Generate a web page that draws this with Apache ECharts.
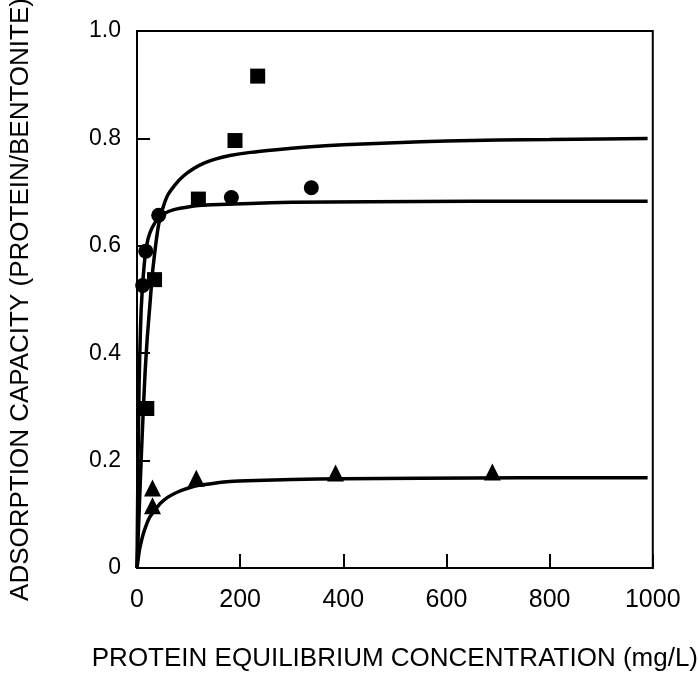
<!DOCTYPE html>
<html>
<head>
<meta charset="utf-8">
<script src="https://cdn.jsdelivr.net/npm/echarts@6/dist/echarts.min.js"></script>
<style>
  html, body { margin: 0; padding: 0; background: #fff; }
  #my-charts { width: 698px; height: 677px; }
</style>
</head>
<body>
<div id="my-charts"></div>
<script>
var squareX = [19, 34, 119, 190, 234]
var squareY = [0.297, 0.537, 0.687, 0.796, 0.916]
var circleX = [11, 17, 42, 183, 338]
var circleY = [0.526, 0.59, 0.657, 0.69, 0.708]
var triX = [30, 30, 115, 385, 689]
var triY = [0.116, 0.149, 0.167, 0.177, 0.179]

// fitted curves, points
var curveAX = [0, 4, 8, 12, 16, 20, 25, 30, 36, 42, 50, 60, 75, 90, 110, 130, 150, 180, 220, 270, 330, 400, 500, 600, 700, 800, 900, 990]
var curveAY = [0, 0.1, 0.2, 0.29, 0.37, 0.43, 0.49, 0.55, 0.6, 0.64, 0.67, 0.695, 0.715, 0.73, 0.744, 0.754, 0.761, 0.768, 0.774, 0.779, 0.784, 0.788, 0.792, 0.795, 0.797, 0.798, 0.799, 0.8]
var curveBX = [0, 2, 4, 6, 8, 11, 14, 17, 22, 30, 42, 55, 70, 90, 120, 160, 220, 300, 450, 650, 990]
var curveBY = [0, 0.2, 0.34, 0.42, 0.48, 0.53, 0.565, 0.59, 0.615, 0.635, 0.652, 0.661, 0.667, 0.671, 0.675, 0.677, 0.679, 0.681, 0.682, 0.683, 0.683]
var curveCX = [0, 2, 5, 9, 13, 18, 25, 35, 45, 60, 80, 100, 120, 150, 180, 230, 300, 400, 550, 750, 990]
var curveCY = [0, 0.015, 0.035, 0.052, 0.066, 0.08, 0.095, 0.108, 0.12, 0.132, 0.142, 0.149, 0.154, 0.158, 0.161, 0.163, 0.165, 0.166, 0.167, 0.168, 0.168]

var xTicks = [0, 200, 400, 600, 800, 1000]
var yTicks = [0, 0.2, 0.4, 0.6, 0.8, 1.0]

function pairs(xs, ys) {
  return xs.map(function (x, i) { return [x, ys[i]] })
}

var font = "'Liberation Sans', Arial, Helvetica, sans-serif"

function lineSeries(xs, ys) {
  return {
    type: 'line',
    data: pairs(xs, ys),
    showSymbol: false,
    smooth: 0.15,
    lineStyle: { color: '#000', width: 3.5 },
    z: 2
  }
}

function dotSeries(xs, ys, symbol, size) {
  return {
    type: 'scatter',
    data: pairs(xs, ys),
    symbol: symbol,
    symbolSize: size,
    itemStyle: { color: '#000', opacity: 1 },
    z: 3
  }
}

var myChart = echarts.init(document.getElementById('my-charts'), null, { renderer: 'canvas' })

var option = {
  backgroundColor: '#fff',
  animation: false,
  grid: {
    left: 131,
    right: 37,
    top: 31,
    bottom: 87,
    containLabel: false,
    show: true,
    borderColor: '#000',
    borderWidth: 2
  },
  xAxis: {
    type: 'value',
    min: 0,
    max: 1000,
    interval: 200,
    name: 'PROTEIN EQUILIBRIUM CONCENTRATION (mg/L)',
    nameLocation: 'middle',
    nameGap: 78,
    nameTextStyle: { color: '#000', fontSize: 26, fontFamily: font },
    axisLine: { lineStyle: { color: '#000', width: 2 } },
    axisTick: { inside: true, length: 14, lineStyle: { color: '#000', width: 2 } },
    axisLabel: {
      color: '#000',
      fontSize: 25,
      fontFamily: font,
      margin: 20,
      formatter: function (v) { return xTicks.indexOf(v) >= 0 ? String(v) : '' }
    },
    splitLine: { show: false }
  },
  yAxis: {
    type: 'value',
    min: 0,
    max: 1,
    interval: 0.2,
    name: 'ADSORPTION CAPACITY (PROTEIN/BENTONITE)',
    nameLocation: 'middle',
    nameGap: 103,
    nameTextStyle: { color: '#000', fontSize: 26, fontFamily: font },
    axisLine: { lineStyle: { color: '#000', width: 2 } },
    axisTick: { inside: true, length: 13, lineStyle: { color: '#000', width: 2 } },
    axisLabel: {
      color: '#000',
      fontSize: 23,
      fontFamily: font,
      margin: 16,
      formatter: function (v) {
        var t = yTicks.find(function (k) { return Math.abs(k - v) < 1e-6 })
        if (t === undefined) return ''
        return t === 0 ? '0' : t.toFixed(1)
      }
    },
    splitLine: { show: false }
  },
  series: [
    lineSeries(curveAX, curveAY),
    lineSeries(curveBX, curveBY),
    lineSeries(curveCX, curveCY),
    dotSeries(squareX, squareY, 'rect', 15),
    dotSeries(circleX, circleY, 'circle', 15),
    dotSeries(triX, triY, 'triangle', 17)
  ]
}

myChart.setOption(option)
</script>
</body>
</html>
